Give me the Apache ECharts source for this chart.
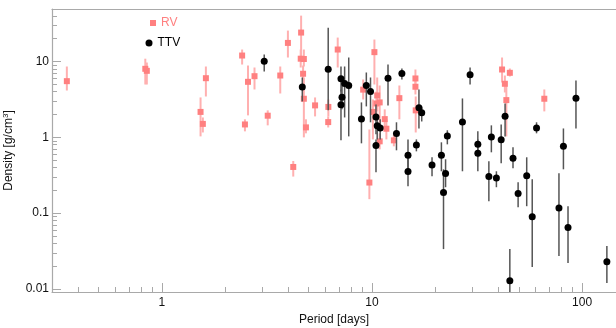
<!DOCTYPE html>
<html>
<head>
<meta charset="utf-8">
<script src="https://cdn.jsdelivr.net/npm/echarts@6/dist/echarts.min.js"></script>
<style>
  html, body { margin: 0; padding: 0; background: #fff; }
  #chart { width: 616px; height: 328px; }
</style>
</head>
<body>
<div id="chart"></div>
<script>
// Planet density vs. orbital period, RV and TTV samples (value, lower and upper bound)
const rvPeriod  = [0.353, 0.834, 0.848, 1.62, 1.528, 1.567, 2.41, 2.57, 2.485, 2.76, 3.19, 3.66, 3.98, 4.6, 4.58, 4.74, 4.7, 4.74, 4.85, 4.22, 5.36, 6.2, 6.19, 6.87, 9.72, 9.08, 10.27, 10.59, 10.88, 10.5, 10.1, 11.5, 11.71, 10.88, 12.71, 13.5, 16.1, 16.1, 16.15, 41.6, 45.3, 42.9, 43.6, 66.1];
const rvDensity = [5.51, 8.02, 7.54, 6.03, 2.165, 1.505, 12.0, 5.4, 1.48, 6.41, 1.93, 6.54, 17.6, 24.1, 10.9, 10.8, 6.9, 3.23, 1.354, 0.407, 2.64, 2.52, 1.59, 14.4, 0.2535, 4.26, 13.3, 3.57, 2.89, 2.8, 2.165, 1.74, 1.30, 0.886, 0.913, 3.29, 5.98, 4.65, 2.27, 7.85, 7.1, 5.09, 3.1, 3.23];
const rvLow     = [4.15, 4.98, 4.98, 3.46, 1.03, 1.16, 9.13, 1.95, 1.2, 4.28, 1.44, 3.79, 11.3, 11.3, 8.34, 8.6, 5.45, 1.0, 1.13, 0.304, 1.89, 1.89, 1.35, 8.34, 0.153, 3.16, 4.98, 2.2, 1.48, 1.62, 0.94, 1.27, 0.94, 0.695, 0.762, 1.73, 4.69, 3.68, 1.16, 5.29, 6.35, 3.91, 1.03, 2.2];
const rvHigh    = [8.6, 10.9, 9.7, 8.6, 3.36, 1.83, 14.4, 8.86, 1.73, 8.34, 2.27, 8.6, 25.6, 40.3, 14.4, 14.4, 8.86, 6.16, 1.73, 0.488, 3.36, 3.16, 1.89, 20.7, 1.27, 5.8, 19.5, 6.16, 4.83, 4.03, 3.16, 2.34, 1.73, 1.13, 1.095, 4.83, 7.85, 5.8, 3.46, 11.3, 8.09, 6.54, 5.45, 4.28];

const ttvPeriod  = [3.07, 4.66, 6.19, 7.12, 7.2, 7.12, 7.41, 7.75, 8.91, 9.4, 9.84, 10.45, 10.59, 10.94, 10.45, 11.92, 13.88, 13.08, 14.84, 14.84, 16.73, 17.25, 16.27, 19.31, 21.4, 22.4, 21.9, 22.84, 26.95, 29.3, 31.9, 31.9, 36.0, 37.0, 39.1, 41.2, 43.0, 45.3, 46.9, 49.6, 54.5, 57.9, 60.7, 77.6, 81.5, 85.7, 93.5, 131.2];
const ttvDensity = [10.1, 4.62, 7.9, 5.92, 3.39, 2.69, 5.13, 4.83, 1.75, 4.83, 4.03, 1.86, 1.425, 1.325, 0.778, 6.03, 6.95, 1.12, 0.58, 0.354, 2.46, 2.11, 0.792, 0.432, 0.58, 0.333, 0.187, 1.04, 1.59, 6.68, 0.809, 0.616, 0.304, 1.01, 0.291, 0.933, 1.9, 0.0128, 0.532, 0.1817, 0.311, 0.09, 1.33, 0.117, 0.761, 0.0645, 3.29, 0.0228];
const ttvLow     = [7.39, 2.98, 2.27, 4.03, 2.34, 0.913, 1.83, 1.03, 0.834, 2.56, 1.58, 1.095, 0.94, 0.94, 0.346, 2.64, 5.8, 0.675, 0.357, 0.227, 1.31, 1.62, 0.654, 0.307, 0.357, 0.22, 0.0336, 0.809, 0.357, 4.98, 0.546, 0.357, 0.144, 0.635, 0.22, 0.455, 1.03, 0.007, 0.391, 0.12, 0.1236, 0.0195, 1.13, 0.0272, 0.379, 0.022, 1.31, 0.012];
const ttvHigh    = [12.4, 6.16, 28.0, 8.6, 4.98, 4.28, 8.6, 11.3, 2.89, 7.17, 6.16, 2.72, 1.83, 1.73, 0.94, 9.13, 8.09, 1.58, 0.94, 0.546, 4.28, 2.48, 0.94, 0.546, 0.86, 0.514, 0.379, 1.24, 3.26, 8.34, 1.2, 0.94, 0.483, 1.44, 0.357, 1.48, 2.8, 0.0336, 0.738, 0.256, 0.546, 0.28, 1.58, 0.336, 1.31, 0.1236, 5.62, 0.0368];

// Axis ticks
const xMajor = [1, 10, 100];
const xMinor = [0.4, 0.5, 0.6, 0.7, 0.8, 0.9, 2, 3, 4, 5, 6, 7, 8, 9, 20, 30, 40, 50, 60, 70, 80, 90];
const yMajor = [0.01, 0.1, 1, 10];
const yMinor = [0.02, 0.03, 0.04, 0.05, 0.06, 0.07, 0.08, 0.09, 0.2, 0.3, 0.4, 0.5, 0.6, 0.7, 0.8, 0.9, 2, 3, 4, 5, 6, 7, 8, 9, 20, 30, 40];

const X_MIN = 0.3, X_MAX = 145, Y_MIN = 0.00913, Y_MAX = 49.3;
const FONT = '"Liberation Sans", Arial, Helvetica, sans-serif';
const AXIS_GRAY = '#a9a9a9';
const RV_COLOR = '#ff8080', RV_BAR = '#ffb0b0';
const TTV_COLOR = '#000000', TTV_BAR = '#555555';

const points = (xs, ys) => xs.map((x, i) => [x, ys[i]]);
const bars = (xs, lo, hi) => xs.map((x, i) => [x, lo[i], hi[i]]);

function errorBar(color, width) {
  return function (params, api) {
    const a = api.coord([api.value(0), api.value(1)]);
    const b = api.coord([api.value(0), api.value(2)]);
    return {
      type: 'line',
      shape: { x1: a[0], y1: a[1], x2: b[0], y2: b[1] },
      style: { stroke: color, lineWidth: width }
    };
  };
}

function fmt(v) {
  return String(Number(v.toPrecision(3)));
}

const baseX = { type: 'log', logBase: 10, min: X_MIN, max: X_MAX, gridIndex: 0, splitLine: { show: false } };
const baseY = { type: 'log', logBase: 10, min: Y_MIN, max: Y_MAX, gridIndex: 0, splitLine: { show: false } };

const chart = echarts.init(document.getElementById('chart'), null, { renderer: 'canvas' });
chart.setOption({
  animation: false,
  backgroundColor: '#ffffff',
  grid: { left: 52, right: 0, top: 9, bottom: 36, containLabel: false, outerBoundsMode: 'none' },
  legend: [
    {
      data: [{ name: 'RV', textStyle: { color: RV_COLOR } }],
      left: 150, top: 17, padding: 0, itemWidth: 6, itemHeight: 6, icon: 'rect',
      textStyle: { fontFamily: FONT, fontSize: 12 }, selectedMode: false
    },
    {
      data: [{ name: 'TTV', textStyle: { color: '#000' } }],
      left: 145.5, top: 37, padding: 0, itemWidth: 7, itemHeight: 7, icon: 'circle',
      textStyle: { fontFamily: FONT, fontSize: 12 }, selectedMode: false
    }
  ],
  xAxis: [
    Object.assign({}, baseX, {
      position: 'bottom',
      name: 'Period [days]', nameLocation: 'middle', nameGap: 22,
      nameTextStyle: { fontFamily: FONT, fontSize: 12, color: '#111' },
      axisLine: { show: true, lineStyle: { color: AXIS_GRAY, width: 1.2 } },
      axisTick: { show: true, inside: true, length: 9, customValues: xMajor, lineStyle: { color: AXIS_GRAY } },
      axisLabel: { customValues: xMajor, formatter: fmt, margin: 5, fontFamily: FONT, fontSize: 12, color: '#111' }
    }),
    Object.assign({}, baseX, {
      position: 'bottom',
      axisLine: { show: false },
      axisTick: { show: true, inside: true, length: 5, customValues: xMinor, lineStyle: { color: AXIS_GRAY } },
      axisLabel: { show: false }
    }),
    Object.assign({}, baseX, {
      position: 'top',
      axisLine: { show: true, lineStyle: { color: AXIS_GRAY, width: 1.2 } },
      axisTick: { show: false },
      axisLabel: { show: false }
    })
  ],
  yAxis: [
    Object.assign({}, baseY, {
      position: 'left',
      name: 'Density [g/cm{s|3}]', nameLocation: 'middle', nameGap: 29, nameRotate: 90,
      nameTextStyle: {
        fontFamily: FONT, fontSize: 12, color: '#111',
        rich: { s: { fontFamily: FONT, fontSize: 8, color: '#111', verticalAlign: 'top', padding: [0, 0, 6, 0] } }
      },
      axisLine: { show: true, lineStyle: { color: AXIS_GRAY, width: 1.2 } },
      axisTick: { show: true, inside: true, length: 9, customValues: yMajor, lineStyle: { color: AXIS_GRAY } },
      axisLabel: { customValues: yMajor, formatter: fmt, margin: 3, fontFamily: FONT, fontSize: 12, color: '#111' }
    }),
    Object.assign({}, baseY, {
      position: 'left',
      axisLine: { show: false },
      axisTick: { show: true, inside: true, length: 5, customValues: yMinor, lineStyle: { color: AXIS_GRAY } },
      axisLabel: { show: false }
    })
  ],
  series: [
    {
      name: 'RV bars', type: 'custom', xAxisIndex: 0, yAxisIndex: 0, clip: true,
      renderItem: errorBar(RV_BAR, 2), encode: { x: 0, y: [1, 2] },
      data: bars(rvPeriod, rvLow, rvHigh), silent: true, z: 1
    },
    {
      name: 'RV', type: 'scatter', xAxisIndex: 0, yAxisIndex: 0,
      symbol: 'rect', symbolSize: 6, itemStyle: { color: RV_COLOR, opacity: 1 },
      data: points(rvPeriod, rvDensity), z: 2
    },
    {
      name: 'TTV bars', type: 'custom', xAxisIndex: 0, yAxisIndex: 0, clip: true,
      renderItem: errorBar(TTV_BAR, 1.5), encode: { x: 0, y: [1, 2] },
      data: bars(ttvPeriod, ttvLow, ttvHigh), silent: true, z: 3
    },
    {
      name: 'TTV', type: 'scatter', xAxisIndex: 0, yAxisIndex: 0,
      symbol: 'circle', symbolSize: 7, itemStyle: { color: TTV_COLOR, opacity: 1 },
      data: points(ttvPeriod, ttvDensity), z: 4
    }
  ]
});
</script>
</body>
</html>
